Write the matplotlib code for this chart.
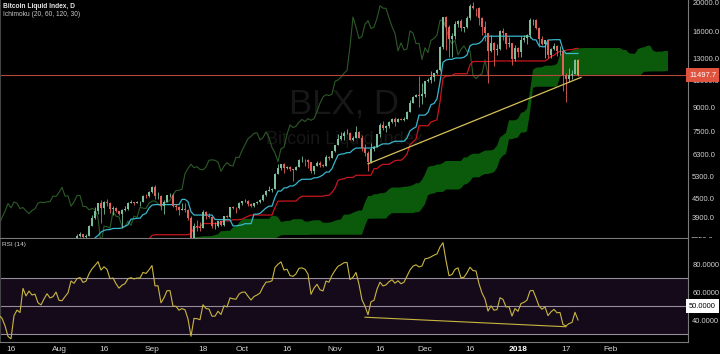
import numpy as np
import pandas as pd
import matplotlib
matplotlib.use('Agg')
import matplotlib.pyplot as plt
from matplotlib import font_manager
from matplotlib.ticker import NullLocator
from matplotlib.transforms import Bbox, blended_transform_factory

plt.rcParams['font.family'] = ['Liberation Sans', 'DejaVu Sans']

# daily BLX bars, 2017-04-01 .. 2018-01-21 (one month per row)
dates = pd.date_range('2017-04-01', '2018-01-21', freq='D')
first_open = 1071

close = [
    1099, 1117, 1180, 1143, 1133, 1196, 1190, 1180, 1205, 1208, 1226, 1218, 1180, 1185, 1187, 1184, 1205, 1210, 1224, 1255, 1265, 1254, 1250, 1262, 1280, 1307, 1345, 1318, 1331, 1348,
    1421, 1453, 1491, 1537, 1555, 1578, 1596, 1723, 1755, 1787, 1848, 1725, 1804, 1808, 1739, 1735, 1839, 1889, 1987, 2085, 2052, 2124, 2273, 2446, 2305, 2202, 2039, 2155, 2255, 2175, 2286,
    2407, 2488, 2516, 2518, 2698, 2869, 2732, 2805, 2824, 2948, 2958, 2660, 2717, 2507, 2465, 2519, 2656, 2549, 2589, 2721, 2689, 2705, 2745, 2608, 2590, 2478, 2552, 2575, 2539, 2480,
    2434, 2507, 2565, 2601, 2601, 2608, 2518, 2571, 2518, 2373, 2337, 2398, 2357, 2233, 1998, 1929, 2228, 2319, 2273, 2817, 2667, 2810, 2730, 2754, 2577, 2529, 2671, 2809, 2726, 2757, 2875,
    2718, 2710, 2804, 2895, 3252, 3213, 3378, 3419, 3342, 3381, 3650, 3884, 4073, 4325, 4181, 4376, 4331, 4160, 4193, 4087, 4001, 4100, 4151, 4334, 4371, 4352, 4382, 4382, 4579, 4565, 4703,
    4892, 4578, 4582, 4236, 4376, 4597, 4599, 4228, 4226, 4122, 4161, 4130, 3882, 3154, 3637, 3625, 3582, 4065, 3924, 3905, 3631, 3631, 3777, 3661, 3928, 3892, 4200, 4174, 4163, 4338,
    4403, 4409, 4317, 4229, 4328, 4370, 4426, 4611, 4773, 4782, 4820, 5430, 5650, 5833, 5679, 5725, 5606, 5590, 5708, 6011, 6031, 6008, 5930, 5526, 5751, 5904, 5780, 5753, 6153, 6130, 6468,
    6767, 7079, 7207, 7379, 7407, 7022, 7144, 7459, 7143, 6618, 6357, 5950, 6559, 6635, 7315, 7871, 7708, 7790, 8036, 8200, 8071, 8254, 8148, 8250, 8707, 9284, 9734, 9907, 9837, 9946,
    10975, 11074, 11323, 11657, 11916, 14291, 17899, 16570, 15178, 15455, 16937, 17415, 16408, 16564, 17706, 19497, 19140, 19114, 17776, 16624, 15802, 13831, 14699, 13926, 14027, 16099, 15838, 14606, 14656, 12952, 14156,
    13657, 14982, 15201, 15599, 17429, 17527, 16477, 15170, 14595, 14973, 13405, 13980, 14360, 13772, 13819, 11490, 11188, 11475, 11607, 12899, 11497.7,
]
high = [
    1105, 1125, 1180, 1184, 1147, 1196, 1197, 1193, 1211, 1213, 1226, 1224, 1219, 1191, 1194, 1188, 1210, 1215, 1232, 1257, 1267, 1266, 1260, 1264, 1281, 1310, 1347, 1350, 1334, 1351,
    1424, 1479, 1491, 1600, 1578, 1588, 1597, 1735, 1766, 1800, 1873, 1856, 1812, 1825, 1808, 1762, 1841, 1898, 1992, 2086, 2128, 2267, 2273, 2486, 2760, 2534, 2241, 2245, 2300, 2300, 2317,
    2447, 2488, 2562, 2558, 2700, 2905, 2869, 2806, 2833, 2951, 2974, 2980, 2765, 2788, 2520, 2530, 2686, 2687, 2619, 2763, 2789, 2730, 2765, 2739, 2646, 2582, 2555, 2585, 2579, 2540,
    2517, 2517, 2583, 2632, 2619, 2618, 2615, 2571, 2579, 2531, 2394, 2412, 2422, 2360, 2231, 2052, 2230, 2388, 2398, 2898, 2840, 2861, 2811, 2779, 2768, 2610, 2693, 2843, 2815, 2758, 2876,
    2932, 2763, 2810, 2895, 3290, 3273, 3423, 3480, 3422, 3428, 3680, 3950, 4209, 4327, 4439, 4393, 4484, 4370, 4240, 4200, 4099, 4136, 4256, 4360, 4453, 4372, 4403, 4403, 4626, 4647, 4749,
    4938, 4975, 4715, 4610, 4450, 4618, 4672, 4700, 4300, 4245, 4328, 4345, 4140, 3921, 3733, 3809, 3749, 4123, 4097, 4031, 3911, 3752, 3791, 3785, 3941, 3972, 4210, 4247, 4209, 4373,
    4403, 4470, 4433, 4352, 4355, 4416, 4461, 4636, 4800, 4922, 4877, 5446, 5857, 5838, 5866, 5771, 5742, 5620, 5748, 6070, 6194, 6076, 6075, 5935, 5768, 5970, 5988, 5846, 6255, 6215, 6470,
    6767, 7368, 7461, 7492, 7601, 7445, 7207, 7777, 7506, 7308, 6796, 6426, 6873, 6702, 7331, 7967, 8101, 7884, 8100, 8266, 8374, 8303, 8267, 8336, 8717, 9522, 9780, 9964, 11434, 10801,
    11000, 11282, 11891, 11657, 12033, 14369, 17899, 18100, 16800, 15824, 17408, 17533, 17567, 16641, 17991, 19716, 20089, 19177, 19250, 17913, 17301, 15824, 15567, 14796, 14538, 16218, 16468, 15900, 15330, 14681, 14442,
    14200, 15444, 15572, 15739, 17705, 17559, 17600, 16537, 15498, 14973, 14979, 14109, 14659, 14511, 14355, 13843, 11678, 12107, 11966, 13045, 12950,
]
low = [
    1070, 1097, 1117, 1134, 1115, 1133, 1172, 1174, 1178, 1199, 1205, 1212, 1165, 1176, 1178, 1175, 1179, 1199, 1206, 1221, 1250, 1226, 1235, 1247, 1259, 1277, 1306, 1308, 1314, 1322,
    1346, 1420, 1450, 1490, 1522, 1549, 1550, 1590, 1686, 1736, 1785, 1690, 1615, 1776, 1686, 1666, 1725, 1812, 1889, 1972, 2005, 2001, 2115, 2273, 2230, 1935, 1830, 2060, 2105, 2156, 2170,
    2286, 2407, 2432, 2489, 2512, 2687, 2656, 2666, 2780, 2824, 2880, 2483, 2660, 2449, 2184, 2406, 2500, 2520, 2540, 2580, 2630, 2605, 2695, 2578, 2530, 2365, 2315, 2490, 2515, 2470,
    2426, 2394, 2502, 2560, 2554, 2592, 2502, 2496, 2512, 2342, 2285, 2303, 2354, 2170, 1990, 1843, 1925, 2200, 2260, 2268, 2617, 2663, 2690, 2717, 2480, 2450, 2520, 2665, 2703, 2605, 2720,
    2669, 2668, 2698, 2786, 2874, 3195, 3210, 3345, 3247, 3319, 3372, 3635, 3849, 3989, 3727, 3995, 4244, 4015, 3970, 4067, 3953, 3600, 4071, 4119, 4334, 4282, 4340, 4236, 4370, 4498, 4550,
    4702, 4469, 4483, 4130, 3980, 4370, 4535, 4195, 4130, 3951, 4106, 4060, 3800, 3153, 2946, 3508, 3500, 3579, 3855, 3863, 3601, 3553, 3610, 3657, 3650, 3868, 3885, 4135, 4019, 4160,
    4289, 4377, 4247, 4205, 4211, 4321, 4334, 4420, 4566, 4757, 4732, 4815, 5393, 5575, 5464, 5644, 5551, 5138, 5575, 5704, 5925, 5744, 5688, 5451, 5417, 5746, 5713, 5700, 5735, 6035, 6103,
    6377, 6758, 7003, 7031, 7319, 7007, 6985, 7100, 7101, 6442, 6193, 5519, 5879, 6472, 6630, 7176, 7591, 7463, 7694, 8000, 7823, 8060, 8141, 8090, 8240, 8700, 9280, 9720, 9009, 9202,
    9743, 10892, 10840, 10984, 11599, 11831, 14057, 13906, 13152, 13227, 15160, 16549, 16093, 16011, 16505, 17515, 18974, 18028, 16812, 15606, 14951, 10834, 13700, 12350, 13414, 13953, 14999, 13976, 14213, 12408, 12756,
    13155, 13163, 14844, 14522, 15202, 16850, 16280, 14208, 14424, 13131, 13100, 13048, 13952, 13268, 13416, 10194, 9402, 10942, 11172, 11580, 11400,
]

last_price = 11497.7
price_ticks = [20000, 16000, 13000, 11000, 9000, 7500, 6300, 5300, 4500, 3900]
rsi_ticks = [80, 60, 40]
date_ticks = ['2017-07-16', '2017-08-01', '2017-08-16', '2017-09-01', '2017-09-18', '2017-10-01', '2017-10-16',
              '2017-11-01', '2017-11-16', '2017-12-01', '2017-12-16', '2018-01-01', '2018-01-17', '2018-02-01']
date_labels = ['16', 'Aug', '16', 'Sep', '18', 'Oct', '16', 'Nov', '16', 'Dec', '16', '2018', '17', 'Feb']

# hand drawn trend lines
trend_dates = ['2017-11-12', '2018-01-22']
trend_prices = [5850, 11300]
rsi_trend_dates = ['2017-11-11', '2018-01-17']
rsi_trend_vals = [42.0, 35.2]

conv_len, base_len, spanb_len, disp = 20, 60, 120, 30

df = pd.DataFrame({'close': close, 'high': high, 'low': low}, index=dates)
df['open'] = df['close'].shift(1).fillna(first_open)

ref = pd.Timestamp('2018-01-01')
def day(d):
    return (pd.to_datetime(d) - ref).days.values

x = (df.index - ref).days.values

def donchian(n):
    return (df['high'].rolling(n, min_periods=1).max() + df['low'].rolling(n, min_periods=1).min()) / 2

conv = donchian(conv_len)
base = donchian(base_len)
span_a = ((conv + base) / 2).values
span_b = donchian(spanb_len).values

delta = df['close'].diff()
gain = delta.clip(lower=0).ewm(alpha=1 / 14, adjust=False).mean()
loss = (-delta.clip(upper=0)).ewm(alpha=1 / 14, adjust=False).mean()
rsi = 100 - 100 / (1 + gain / loss)

# narrow font for the price scale if there is one
names = {f.name for f in font_manager.fontManager.ttflist}
if 'Liberation Sans Narrow' in names:
    scale_font, scale_size = 'Liberation Sans Narrow', 6.2
else:
    scale_font, scale_size = 'Liberation Sans', 5.4

W, H = 720, 354
fig = plt.figure(figsize=(W / 100, H / 100), dpi=100, facecolor='black')
ax = fig.add_axes([0, 1 - 238 / H, 688 / W, 238 / H], facecolor='black')
ax2 = fig.add_axes([0, 1 - 342 / H, 688 / W, (342 - 239) / H], facecolor='black')

xlim = (-518 / 3, (688 - 518) / 3)
for a in (ax, ax2):
    a.set_xlim(*xlim)
    for s in a.spines.values():
        s.set_color('#7a7a7a')
        s.set_linewidth(0.8)
    a.spines['top'].set_visible(False)
    a.spines['left'].set_color('#444444')

# --- price pane ---
ax.set_yscale('log')
ax.set_ylim(3325, 20370)

ax.text(0.5, (238 - 104) / 238, 'BLX, D', transform=ax.transAxes, ha='center', va='center',
        fontsize=25, color='#171717', zorder=0)
ax.text(0.5, (238 - 139) / 238, 'Bitcoin Liquid Index', transform=ax.transAxes, ha='center', va='center',
        fontsize=13, color='#171717', zorder=0)

xl = x + disp
ax.fill_between(xl, span_a, span_b, where=span_a >= span_b, color='#0b5a0b', lw=0, zorder=1, interpolate=True)
ax.fill_between(xl, span_a, span_b, where=span_a < span_b, color='#5a0b0b', lw=0, zorder=1, interpolate=True)
ax.plot(x - disp, df['close'], color='#2c5a28', lw=0.8, zorder=2)
ax.plot(x, base, color='#c8161e', lw=0.9, zorder=2)
ax.plot(x, conv, color='#38b6cc', lw=0.9, zorder=2)

ax.axhline(last_price, color='#b5473c', lw=0.8, zorder=2)

up = df['close'] >= df['open']
colors = np.where(up, '#7cbd9c', '#e0625a').astype(object)
colors[-1] = '#e0955e'
ax.vlines(x, df['low'], df['high'], colors=list(colors), lw=0.6, zorder=3)
body_lo = np.minimum(df['open'], df['close'])
body_h = np.abs(df['close'] - df['open'])
ax.bar(x, body_h, bottom=body_lo, width=0.62, color=list(colors), lw=0, zorder=3)

ax.plot(day(trend_dates), trend_prices, color='#d8c15a', lw=0.9, zorder=4)

ax.yaxis.tick_right()
ax.set_yticks(price_ticks)
ax.set_yticklabels([f'{v:.1f}' for v in price_ticks], family=scale_font)
ax.yaxis.set_minor_locator(NullLocator())
ax.tick_params(axis='y', length=0, pad=3, labelsize=scale_size, labelcolor='#d2d2d2')
ax.set_xticks([])

yx = blended_transform_factory(ax.transAxes, ax.transData)
ax.text(1.0 + 1 / 688, last_price, '11497.7', transform=yx, ha='left', va='center', fontsize=scale_size,
        family=scale_font, color='white',
        bbox=dict(boxstyle='square,pad=0.45', fc='#e0533f', ec='none'), clip_on=False, zorder=6)
t = ax.text(1.0 + 3 / 688, 3250, '3250.0', transform=yx, ha='left', va='center', fontsize=scale_size,
            family=scale_font, color='#d2d2d2')
t.set_clip_box(Bbox.from_extents(688, H - 238, W, H))
t.set_clip_on(True)

fig.text(3 / W, 1 - 3 / H, 'Bitcoin Liquid Index, D', ha='left', va='top', fontsize=4.8,
         fontweight='bold', color='#e6e6e6')
fig.text(3 / W, 1 - 10.5 / H, 'Ichimoku (20, 60, 120, 30)', ha='left', va='top', fontsize=4.8, color='#c8c8c8')

# --- RSI pane ---
ax2.set_ylim(24.3, 97.9)
ax2.axhspan(30, 70, color='#150a1a', lw=0, zorder=0)
for lvl in (70, 50, 30):
    ax2.axhline(lvl, color='#978c9e', lw=0.8, zorder=1)
ax2.plot(x, rsi, color='#c9b640', lw=0.8, zorder=3)
ax2.plot(day(rsi_trend_dates), rsi_trend_vals, color='#c9b640', lw=0.8, zorder=3)

ax2.yaxis.tick_right()
ax2.set_yticks(rsi_ticks)
ax2.set_yticklabels([f'{v:.4f}' for v in rsi_ticks], family=scale_font)
ax2.tick_params(axis='y', length=0, pad=3, labelsize=scale_size, labelcolor='#d2d2d2')
yx2 = blended_transform_factory(ax2.transAxes, ax2.transData)
ax2.text(1.0 + 1 / 688, 50, '50.0000', transform=yx2, ha='left', va='center', fontsize=scale_size,
         family=scale_font, color='black',
         bbox=dict(boxstyle='square,pad=0.45', fc='white', ec='none'), clip_on=False, zorder=6)
ax2.text(2 / 688, 1 - 3 / 103, 'RSI (14)', transform=ax2.transAxes, ha='left', va='top', fontsize=4.6, color='#d6d6d6')

ax2.set_xticks(day(date_ticks))
ax2.set_xticklabels(date_labels)
ax2.tick_params(axis='x', length=0, pad=3, labelsize=6, labelcolor='#d2d2d2')
for lab in ax2.get_xticklabels():
    if lab.get_text() == '2018':
        lab.set_fontweight('bold')
        lab.set_color('white')

fig.savefig('out.png', dpi=100, facecolor='black')
